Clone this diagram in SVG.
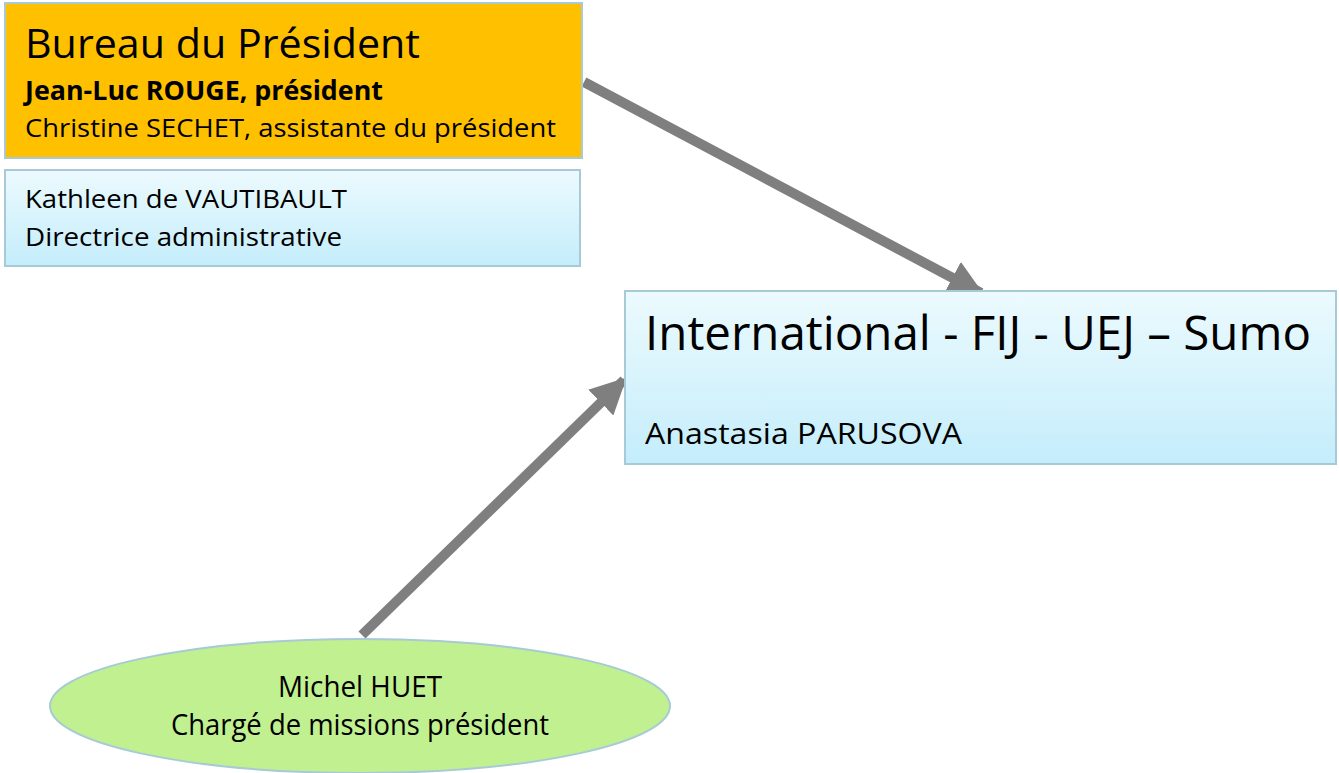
<svg xmlns="http://www.w3.org/2000/svg" width="1339" height="773" viewBox="0 0 1339 773">
<style>
text{font-family:"Open Sans","Noto Sans","Liberation Sans",sans-serif;fill:#000}
.box{stroke:#A7CAD6;stroke-width:2}
.con{stroke:#7F7F7F;stroke-width:10;fill:none}
</style>
<defs>
<linearGradient id="blue" x1="0" y1="0" x2="0" y2="1">
<stop offset="0" stop-color="#ECFAFE"/>
<stop offset="1" stop-color="#C4EDFB"/>
</linearGradient>
<marker id="ah" viewBox="0 0 10 10" refX="9" refY="5" markerWidth="3.6" markerHeight="3.6" markerUnits="strokeWidth" orient="auto">
<path d="M0,0 L10,5 L0,10 Z" fill="#7F7F7F"/>
</marker>
</defs>
<g id="connectors">
<line class="con" x1="584" y1="82" x2="981" y2="293" marker-end="url(#ah)"/>
<line class="con" x1="362" y1="635" x2="624" y2="380" marker-end="url(#ah)"/>
</g>
<g id="bureau">
<rect class="box" x="5" y="3" width="577" height="155" fill="#FFC000"/>
<text x="25" y="58" font-size="41" textLength="395" lengthAdjust="spacingAndGlyphs">Bureau du Président</text>
<text x="25" y="100" font-size="26" font-weight="bold" textLength="358" lengthAdjust="spacingAndGlyphs">Jean-Luc ROUGE, président</text>
<text x="25" y="137" font-size="26" textLength="531" lengthAdjust="spacingAndGlyphs">Christine SECHET, assistante du président</text>
</g>
<g id="vautibault">
<rect class="box" x="5" y="170" width="575" height="96" fill="url(#blue)"/>
<text x="25" y="208" font-size="26" textLength="322" lengthAdjust="spacingAndGlyphs">Kathleen de VAUTIBAULT</text>
<text x="25" y="246" font-size="26" textLength="317" lengthAdjust="spacingAndGlyphs">Directrice administrative</text>
</g>
<g id="international">
<rect class="box" x="625" y="291" width="711" height="173" fill="url(#blue)"/>
<text x="645" y="350" font-size="48" textLength="666" lengthAdjust="spacingAndGlyphs">International - FIJ - UEJ – Sumo</text>
<text x="645" y="444" font-size="30" textLength="317" lengthAdjust="spacingAndGlyphs">Anastasia PARUSOVA</text>
</g>
<g id="huet">
<ellipse cx="360" cy="706" rx="310" ry="67" fill="#C0F090" stroke="#A7CAD6" stroke-width="2"/>
<text x="360" y="697" font-size="29" text-anchor="middle" textLength="164" lengthAdjust="spacingAndGlyphs">Michel HUET</text>
<text x="360" y="735" font-size="29" text-anchor="middle" textLength="378" lengthAdjust="spacingAndGlyphs">Chargé de missions président</text>
</g>
</svg>
